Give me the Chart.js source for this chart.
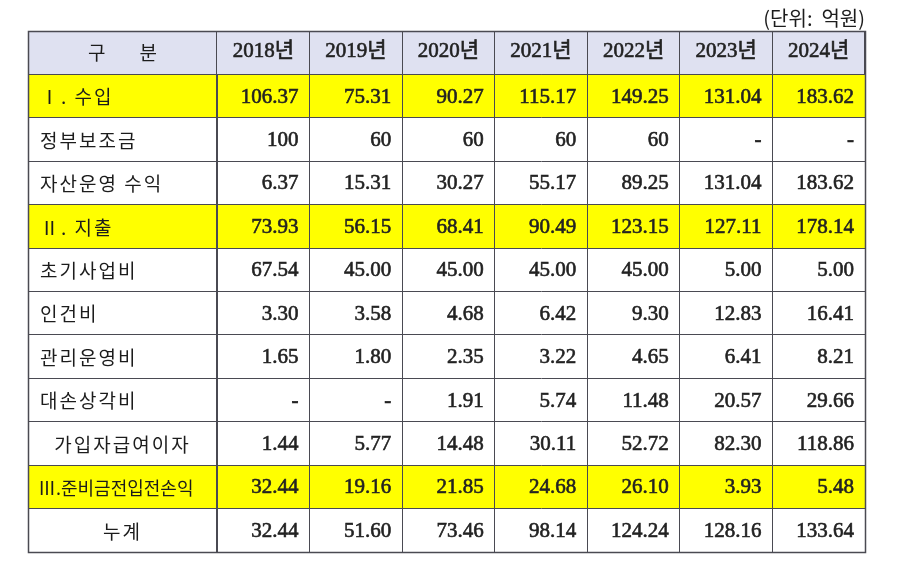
<!DOCTYPE html>
<html>
<head>
<meta charset="utf-8">
<script src="https://cdn.jsdelivr.net/npm/chart.js@4"></script>
<style>
  body { margin: 0; background: #fff; }
  #wrap { width: 897px; height: 571px; }
</style>
</head>
<body>
<div id="wrap"><canvas id="tableChart"></canvas></div>
<script>
const years = ['2018년', '2019년', '2020년', '2021년', '2022년', '2023년', '2024년'];
const rowLabels = ['Ⅰ. 수입', '정부보조금', '자산운영 수익', 'Ⅱ. 지출', '초기사업비', '인건비',
  '관리운영비', '대손상각비', '가입자급여이자', 'Ⅲ.준비금전입전손익', '누계'];

// values per row, null = '-'
const revenue      = [106.37, 75.31, 90.27, 115.17, 149.25, 131.04, 183.62];
const govSubsidy   = [100, 60, 60, 60, 60, null, null];
const assetIncome  = [6.37, 15.31, 30.27, 55.17, 89.25, 131.04, 183.62];
const expense      = [73.93, 56.15, 68.41, 90.49, 123.15, 127.11, 178.14];
const initialCost  = [67.54, 45.00, 45.00, 45.00, 45.00, 5.00, 5.00];
const labourCost   = [3.30, 3.58, 4.68, 6.42, 9.30, 12.83, 16.41];
const adminCost    = [1.65, 1.80, 2.35, 3.22, 4.65, 6.41, 8.21];
const badDebt      = [null, null, 1.91, 5.74, 11.48, 20.57, 29.66];
const memberInt    = [1.44, 5.77, 14.48, 30.11, 52.72, 82.30, 118.86];
const reserveGain  = [32.44, 19.16, 21.85, 24.68, 26.10, 3.93, 5.48];
const cumulative   = [32.44, 51.60, 73.46, 98.14, 124.24, 128.16, 133.64];

const rowValues = [revenue, govSubsidy, assetIncome, expense, initialCost, labourCost,
  adminCost, badDebt, memberInt, reserveGain, cumulative];
const rowDecimals = [2, 0, 2, 2, 2, 2, 2, 2, 2, 2, 2];
const highlightRows = [0, 3, 9];
const centeredRows = [8, 10];

const LINE = '#4a4a52';
const TEXT = '#1c1c1c';
const NUM = '#222222';
const YELLOW = '#ffff00';
const HEADER_BG = '#dfe1f1';
const numFont = '21px "Liberation Serif", "Noto Sans CJK KR", serif';
const korFont = '19px "Noto Sans CJK KR", sans-serif';

// same rounding the library uses for its grid lines
const align = p => Math.round(p - 0.5) + 0.5;

// one scatter dataset per row, points sit on the (year, row) cells
const datasets = rowLabels.map((lab, r) => ({
  label: lab,
  data: years.map((y, c) => ({ x: y, y: lab, v: rowValues[r][c] })),
  pointRadius: 0,
  pointHoverRadius: 0
}));

const tablePlugin = {
  id: 'tablePlugin',
  beforeDraw(chart) {
    const { ctx, chartArea, scales: { x, y } } = chart;
    const left = y.left, right = chartArea.right;
    const half = (y.getPixelForValue(1) - y.getPixelForValue(0)) / 2;
    ctx.save();
    ctx.fillStyle = HEADER_BG;
    ctx.fillRect(left, x.top, right - left, x.bottom - x.top);
    ctx.fillStyle = YELLOW;
    highlightRows.forEach(r => {
      const cy = y.getPixelForValue(r);
      ctx.fillRect(left, cy - half, right - left, half * 2);
    });
    ctx.restore();
  },
  afterDraw(chart) {
    const { ctx, chartArea, scales: { x, y } } = chart;
    const left = y.left, right = chartArea.right;
    const half = (y.getPixelForValue(1) - y.getPixelForValue(0)) / 2;
    const colHalf = (x.getPixelForValue(1) - x.getPixelForValue(0)) / 2;
    ctx.save();
    ctx.strokeStyle = LINE;
    ctx.lineWidth = 1;
    // row lines across the label column
    ctx.beginPath();
    for (let r = 0; r <= rowLabels.length; r++) {
      const py = align(y.getPixelForValue(r) - half);
      ctx.moveTo(left, py);
      ctx.lineTo(chartArea.left, py);
    }
    // column lines through the header
    for (let c = 0; c <= years.length; c++) {
      const px = align(x.getPixelForValue(c) - colHalf);
      ctx.moveTo(px, x.top);
      ctx.lineTo(px, x.bottom);
    }
    ctx.stroke();
    ctx.lineWidth = 1.5;
    ctx.strokeRect(left + 0.5, x.top + 0.5, right - left, chartArea.bottom - x.top);

    // header label
    ctx.fillStyle = TEXT;
    ctx.font = korFont;
    ctx.textBaseline = 'middle';
    ctx.textAlign = 'center';
    ctx.fillText('구        분', (left + chartArea.left) / 2, (x.top + x.bottom) / 2);

    // row labels
    rowLabels.forEach((lab, r) => {
      const cy = y.getPixelForValue(r) + 1;
      if (r === 9) {
        ctx.font = '18px "Noto Sans CJK KR", sans-serif';
        ctx.letterSpacing = '0px';
      } else {
        ctx.font = korFont;
        ctx.letterSpacing = '2px';
      }
      if (centeredRows.includes(r)) {
        ctx.textAlign = 'center';
        ctx.fillText(lab, (left + chartArea.left) / 2, cy);
      } else {
        ctx.textAlign = 'left';
        ctx.fillText(lab, r === 9 ? left + 10 : left + 12, cy);
      }
    });
    ctx.letterSpacing = '0px';

    // values
    ctx.font = numFont;
    ctx.fillStyle = NUM;
    ctx.strokeStyle = NUM;
    ctx.lineWidth = 0.6;
    ctx.textAlign = 'right';
    chart.data.datasets.forEach((ds, r) => {
      chart.getDatasetMeta(r).data.forEach((pt, c) => {
        const v = ds.data[c].v;
        const txt = v === null ? '-' : v.toFixed(rowDecimals[r]);
        const tx = pt.x + colHalf - 11, ty = pt.y + 1;
        ctx.strokeText(txt, tx, ty);
        ctx.fillText(txt, tx, ty);
      });
    });
    ctx.restore();
  }
};

new Chart(document.getElementById('tableChart'), {
  type: 'scatter',
  data: { datasets },
  options: {
    responsive: true,
    maintainAspectRatio: false,
    animation: false,
    events: [],
    layout: { padding: { left: 28, right: 32, top: 3, bottom: 19 } },
    plugins: {
      legend: { display: false },
      tooltip: { enabled: false },
      title: {
        display: true,
        text: '(단위:  억원)',
        align: 'end',
        color: TEXT,
        font: { family: '"Noto Sans CJK KR", sans-serif', size: 20, weight: 'normal' },
        padding: { top: 3, bottom: 1 }
      }
    },
    scales: {
      x: {
        type: 'category',
        labels: years,
        position: 'top',
        offset: true,
        grid: { offset: true, color: LINE, drawTicks: false },
        border: { color: LINE },
        ticks: {
          color: NUM,
          textStrokeColor: NUM,
          textStrokeWidth: 0.6,
          padding: 10,
          font: { family: '"Liberation Serif", "Noto Sans CJK KR", serif', size: 21 }
        },
        afterFit: s => { s.height = 43.4; }
      },
      y: {
        type: 'category',
        labels: rowLabels,
        offset: true,
        grid: { offset: true, color: LINE, drawTicks: false },
        border: { color: LINE },
        ticks: { display: false },
        afterFit: s => { s.width = 189; }
      }
    }
  },
  plugins: [tablePlugin]
});
</script>
</body>
</html>
